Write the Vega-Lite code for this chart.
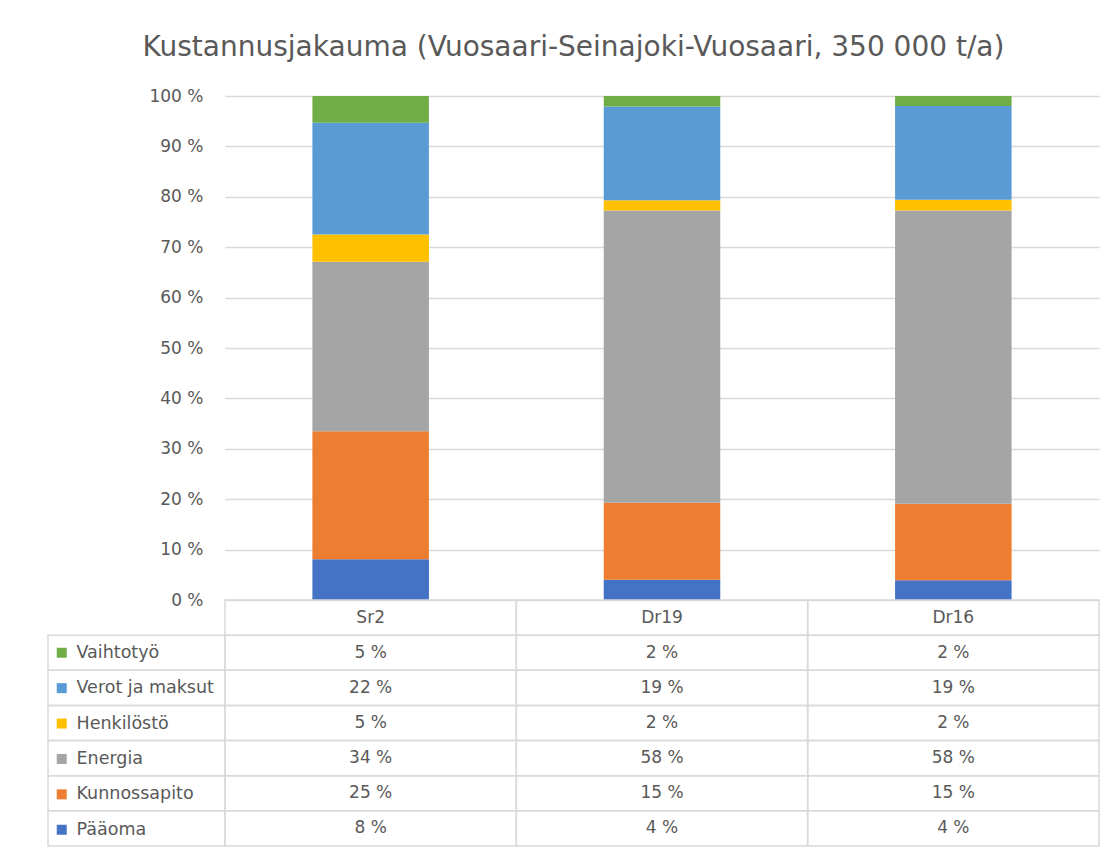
{
  "$schema": "https://vega.github.io/schema/vega-lite/v6.json",
  "padding": {"left": 47, "top": 34, "right": 18, "bottom": 6},
  "background": "white",
  "title": {
    "text": "Kustannusjakauma (Vuosaari-Seinajoki-Vuosaari,  350 000 t/a)",
    "fontSize": 28,
    "font": "DejaVu Sans",
    "fontWeight": "normal",
    "color": "#595959",
    "anchor": "middle",
    "offset": 25
  },
  "config": {
    "view": {"stroke": null},
    "font": "DejaVu Sans",
    "locale": {
      "number": {
        "decimal": ",",
        "thousands": "\u00a0",
        "grouping": [3],
        "currency": ["", "\u00a0€"],
        "percent": "\u00a0%"
      }
    }
  },
  "datasets": {
    "costs": [
      {"cat": "Sr2", "series": "Pääoma", "value": 0.081},
      {"cat": "Sr2", "series": "Kunnossapito", "value": 0.254},
      {"cat": "Sr2", "series": "Energia", "value": 0.336},
      {"cat": "Sr2", "series": "Henkilöstö", "value": 0.054},
      {"cat": "Sr2", "series": "Verot ja maksut", "value": 0.222},
      {"cat": "Sr2", "series": "Vaihtotyö", "value": 0.053},
      {"cat": "Dr19", "series": "Pääoma", "value": 0.040},
      {"cat": "Dr19", "series": "Kunnossapito", "value": 0.153},
      {"cat": "Dr19", "series": "Energia", "value": 0.580},
      {"cat": "Dr19", "series": "Henkilöstö", "value": 0.020},
      {"cat": "Dr19", "series": "Verot ja maksut", "value": 0.186},
      {"cat": "Dr19", "series": "Vaihtotyö", "value": 0.021},
      {"cat": "Dr16", "series": "Pääoma", "value": 0.039},
      {"cat": "Dr16", "series": "Kunnossapito", "value": 0.152},
      {"cat": "Dr16", "series": "Energia", "value": 0.582},
      {"cat": "Dr16", "series": "Henkilöstö", "value": 0.021},
      {"cat": "Dr16", "series": "Verot ja maksut", "value": 0.186},
      {"cat": "Dr16", "series": "Vaihtotyö", "value": 0.020}
    ]
  },
  "columns": 2,
  "spacing": 0,
  "bounds": "flush",
  "resolve": {"scale": {"color": "independent"}, "legend": {"color": "independent"}},
  "concat": [
    {
      "width": 177,
      "height": 504,
      "data": {"values": []},
      "mark": "rect",
      "encoding": {}
    },
    {
      "width": 874,
      "height": 504,
      "data": {"name": "costs"},
      "transform": [
        {"window": [{"op": "row_number", "as": "stack_rank"}], "groupby": ["cat"]}
      ],
      "mark": {"type": "bar", "width": {"band": 0.4}},
      "encoding": {
        "x": {
          "field": "cat",
          "type": "nominal",
          "scale": {"domain": ["Sr2", "Dr19", "Dr16"], "paddingInner": 0, "paddingOuter": 0},
          "axis": null
        },
        "y": {
          "field": "value",
          "type": "quantitative",
          "stack": "zero",
          "scale": {"domain": [0, 1], "nice": false},
          "axis": {
            "title": null,
            "values": [0, 0.1, 0.2, 0.3, 0.4, 0.5, 0.6, 0.7, 0.8, 0.9, 1],
            "format": ".0%",
            "grid": true,
            "gridColor": "#d9d9d9",
            "gridWidth": 1.5,
            "domain": false,
            "ticks": false,
            "labelPadding": 22,
            "labelFontSize": 17,
            "labelColor": "#595959",
            "labelFont": "DejaVu Sans"
          }
        },
        "order": {"field": "stack_rank", "type": "quantitative", "sort": "ascending"},
        "color": {
          "field": "series",
          "type": "nominal",
          "scale": {
            "domain": ["Vaihtotyö", "Verot ja maksut", "Henkilöstö", "Energia", "Kunnossapito", "Pääoma"],
            "range": ["#70AD47", "#5B9BD5", "#FFC000", "#A5A5A5", "#ED7D31", "#4472C4"]
          },
          "legend": {
            "orient": "none",
            "legendX": -172,
            "legendY": 548,
            "title": null,
            "symbolType": "square",
            "symbolSize": 100,
            "symbolStrokeWidth": 0,
            "labelFontSize": 17.5,
            "labelColor": "#595959",
            "labelFont": "DejaVu Sans",
            "labelOffset": 6,
            "rowPadding": 16.4,
            "padding": 0
          }
        }
      }
    },
    {
      "width": 177,
      "height": 246,
      "data": {"name": "costs"},
      "transform": [{"filter": "datum.cat == 'Sr2'"}],
      "mark": {"type": "rect", "fill": "transparent", "stroke": "#d9d9d9", "strokeWidth": 1.5},
      "encoding": {
        "y": {
          "field": "series",
          "type": "nominal",
          "scale": {"domain": [" ", "Vaihtotyö", "Verot ja maksut", "Henkilöstö", "Energia", "Kunnossapito", "Pääoma"], "paddingInner": 0, "paddingOuter": 0},
          "axis": null
        }
      }
    },
    {
      "width": 874,
      "height": 246,
      "data": {"name": "costs"},
      "encoding": {
        "x": {
          "field": "cat",
          "type": "nominal",
          "scale": {"domain": ["Sr2", "Dr19", "Dr16"], "paddingInner": 0, "paddingOuter": 0},
          "axis": null
        }
      },
      "layer": [
        {
          "mark": {"type": "rect", "fill": "transparent", "stroke": "#d9d9d9", "strokeWidth": 1.5},
          "encoding": {
            "y": {
              "field": "series",
              "type": "nominal",
              "scale": {"domain": [" ", "Vaihtotyö", "Verot ja maksut", "Henkilöstö", "Energia", "Kunnossapito", "Pääoma"], "paddingInner": 0, "paddingOuter": 0},
              "axis": null
            }
          }
        },
        {
          "transform": [{"filter": "datum.series == 'Pääoma'"}],
          "mark": {"type": "rect", "fill": "transparent", "stroke": "#d9d9d9", "strokeWidth": 1.5},
          "encoding": {"y": {"datum": " ", "type": "nominal"}}
        },
        {
          "transform": [{"filter": "datum.series == 'Pääoma'"}],
          "mark": {"type": "text", "fontSize": 17, "color": "#595959", "font": "DejaVu Sans", "align": "center", "baseline": "middle"},
          "encoding": {
            "y": {"datum": " ", "type": "nominal"},
            "text": {"field": "cat", "type": "nominal"}
          }
        },
        {
          "mark": {"type": "text", "fontSize": 17, "color": "#595959", "font": "DejaVu Sans", "align": "center", "baseline": "middle"},
          "encoding": {
            "y": {"field": "series", "type": "nominal"},
            "text": {"field": "value", "type": "quantitative", "format": ".0%"}
          }
        }
      ]
    }
  ]
}
